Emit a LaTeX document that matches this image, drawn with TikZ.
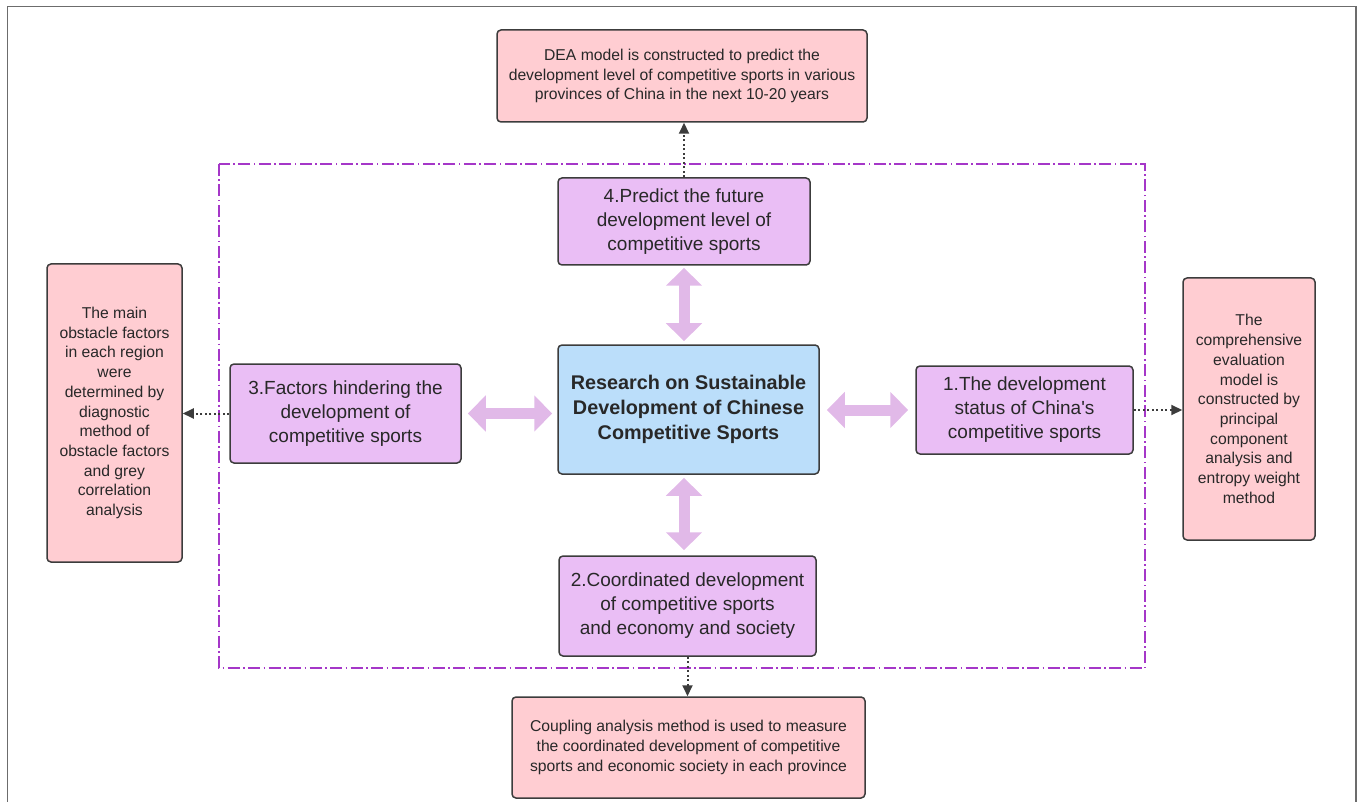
\documentclass[tikz,border=0pt]{standalone}
\usepackage{fontspec}
\setmainfont{Liberation Sans}
\usetikzlibrary{arrows.meta}
\definecolor{pinkfill}{RGB}{255,205,210}
\definecolor{purpfill}{RGB}{234,190,245}
\definecolor{bluefill}{RGB}{187,222,250}
\definecolor{arrowfill}{RGB}{225,185,232}
\definecolor{framepurp}{RGB}{165,55,200}
\definecolor{boxline}{RGB}{60,60,60}
\definecolor{txt}{RGB}{40,40,40}
\tikzset{
  box/.style={draw=boxline, line width=1.5pt, rounded corners=4pt, inner sep=0pt, align=center, text=txt},
  redbox/.style={box, fill=pinkfill, font=\fontsize{15.7}{19.7}\selectfont},
  purbox/.style={box, fill=purpfill, font=\fontsize{19}{24}\selectfont},
  cenbox/.style={box, fill=bluefill, font=\fontsize{19.8}{25}\selectfont\bfseries},
  bigarrow/.style={draw=arrowfill, line width=11pt,
    {Triangle[width=35pt,length=18pt]}-{Triangle[width=35pt,length=18pt]}},
  dotarrow/.style={draw=boxline, line width=2pt, dash pattern=on 2pt off 2.5pt, -{Triangle[width=10pt,length=11pt]}},
}
\begin{document}
\begin{tikzpicture}[x=1pt,y=-1pt]
\useasboundingbox (0,0) rectangle (1360,802);
% outer frame
\draw[draw=gray!85!black, line width=1.5pt] (7.5,802) -- (7.5,6.5) -- (1356,6.5) -- (1356,802);
% dash-dot frame
\draw[framepurp, line width=2.2pt, dash pattern=on 12pt off 3.5pt on 1.5pt off 3.5pt] (219,164) rectangle (1145,668);

\node[redbox, minimum width=370pt, minimum height=92pt] (dea) at (682,76)
  {DEA model is constructed to predict the\\development level of competitive sports in various\\provinces of China in the next 10-20 years};
\node[purbox, minimum width=252pt, minimum height=87pt] (n4) at (684,221.5)
  {4.Predict the future\\development level of\\competitive sports};
\node[cenbox, minimum width=261pt, minimum height=129pt] (c) at (688.5,409.5)
  {Research on Sustainable\\Development of Chinese\\Competitive Sports};
\node[purbox, minimum width=231pt, minimum height=99pt] (b3) at (345.5,413.5)
  {3.Factors hindering the\\development of\\competitive sports};
\node[purbox, minimum width=217pt, minimum height=88pt] (b1) at (1024.5,410)
  {1.The development\\status of China\textquotesingle s\\competitive sports};
\node[purbox, minimum width=257pt, minimum height=100pt] (b2) at (687.5,606)
  {2.Coordinated development\\of competitive sports\\and economy and society};
\node[redbox, minimum width=135pt, minimum height=298pt] (lft) at (114.5,413)
  {The main\\obstacle factors\\in each region\\were\\determined by\\diagnostic\\method of\\obstacle factors\\and grey\\correlation\\analysis};
\node[redbox, minimum width=132pt, minimum height=262pt] (rgt) at (1249,409)
  {The\\comprehensive\\evaluation\\model is\\constructed by\\principal\\component\\analysis and\\entropy weight\\method};
\node[redbox, minimum width=353pt, minimum height=101pt] (bot) at (688.5,747.5)
  {Coupling analysis method is used to measure\\the coordinated development of competitive\\sports and economic society in each province};

% thick double arrows
\draw[bigarrow, shorten <=2pt, shorten >=3pt] (n4.south) -- (n4.south |- c.north);
\draw[bigarrow, shorten <=3pt, shorten >=5pt] (c.south -| n4.south) -- (b2.north -| n4.south);
\draw[bigarrow, shorten <=6pt, shorten >=5pt] (b3.east) -- (b3.east -| c.west);
\draw[bigarrow, shorten <=7pt, shorten >=7pt] (b1.west -| c.east) -- (b1.west);

% dotted arrows
\draw[dotarrow] (n4.north) -- (n4.north |- dea.south);
\draw[dotarrow] (b3.west) -- (b3.west -| lft.east);
\draw[dotarrow] (b1.east) -- (b1.east -| rgt.west);
\draw[dotarrow] (b2.south) -- (b2.south |- bot.north);
\end{tikzpicture}
\end{document}
